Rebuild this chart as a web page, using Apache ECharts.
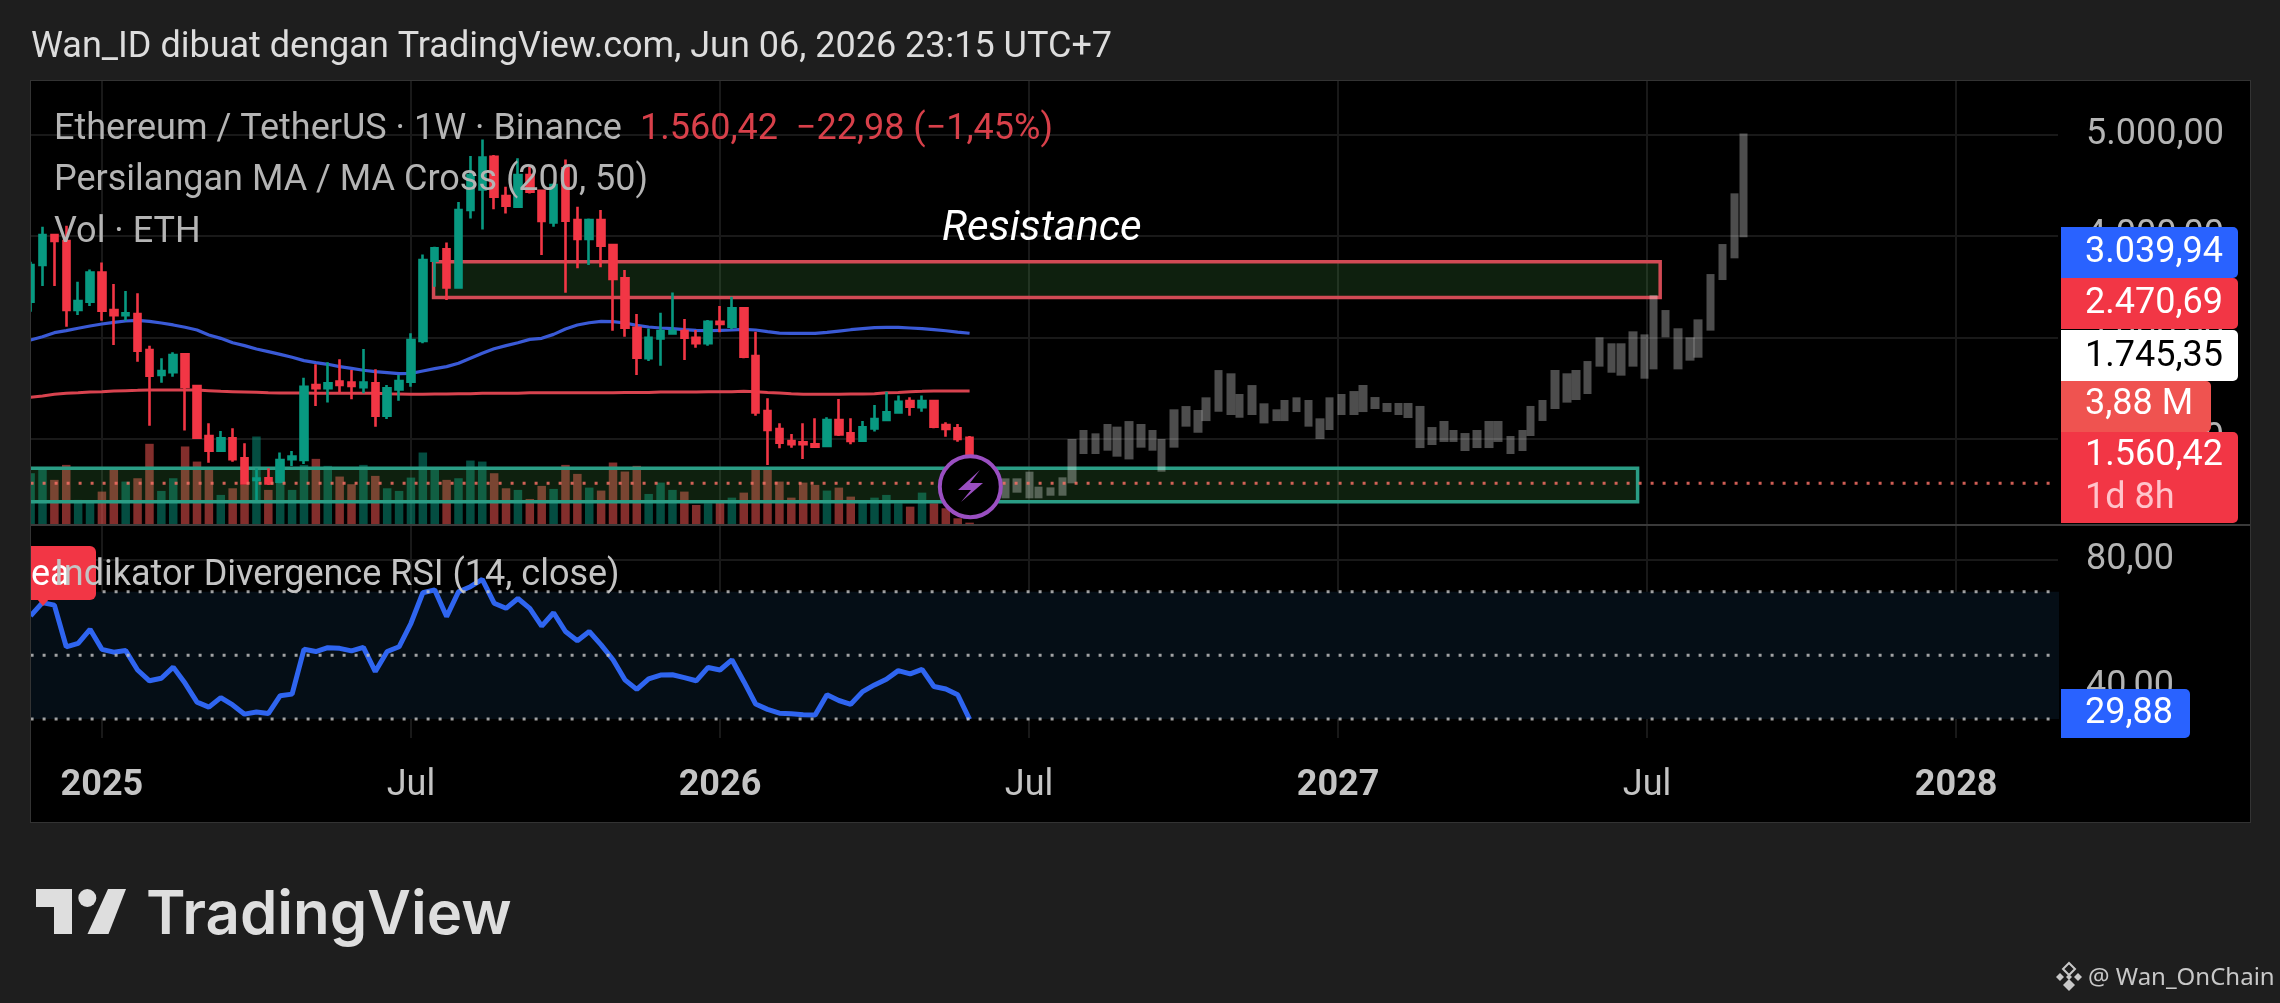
<!DOCTYPE html>
<html><head><meta charset="utf-8">
<style>
html,body{margin:0;padding:0;background:#1e1e1e;width:2280px;height:1003px;overflow:hidden}
#panel{position:absolute;left:30px;top:80px;width:2219px;height:741px;background:#000;border:1px solid #333}
#c{position:absolute;left:0;top:0;width:2280px;height:1003px}
</style>
<script src="https://cdn.jsdelivr.net/npm/echarts@6/dist/echarts.min.js"></script>
</head><body><div id="panel"></div><div id="c"></div>
<script>
// Weekly candles, index 0..79 (price in USDT)
const opens=[3352,3713,4009,3950,3269,3352,3638,3269,3217,3230,2875,2629,2655,2832,2520,2027,1882,2004,1807,1593,1610,1577,1797,1790,2530,2497,2563,2553,2507,2546,2228,2487,2563,2964,3755,3867,3493,4255,4459,4781,4393,4288,4600,4446,4133,4666,4156,3969,4156,3910,3582,3095,2793,2990,3039,3062,2996,2941,3154,3105,3286,2816,2273,2096,1977,1964,1945,1928,2185,2053,1981,2102,2185,2260,2372,2310,2372,2135,2102,2010];
const closes=[3713,4009,3950,3269,3358,3638,3263,3217,3237,2868,2622,2668,2826,2510,2011,1882,2004,1797,1560,1606,1560,1790,1823,2513,2497,2546,2530,2520,2553,2228,2497,2569,2974,3762,3877,3493,4255,4600,4774,4387,4298,4600,4436,4147,4502,4150,3969,4156,3903,3575,3095,2799,2996,3062,3062,2996,2941,3154,3131,3286,2809,2260,2086,1961,1945,1945,1922,2185,2043,1977,2112,2194,2260,2365,2316,2372,2119,2096,1997,1560.42];
const lows=[3253,3506,3506,3105,3220,3309,3164,2924,3164,2760,2129,2553,2612,2080,1997,1764,1882,1774,1554,1396,1544,1560,1731,1751,2323,2356,2454,2389,2448,2119,2195,2375,2513,2941,3499,3368,3493,4173,4064,4262,4222,4281,4419,3811,4091,3440,3680,3713,3690,3065,3006,2628,2766,2720,3029,2776,2898,2918,3049,3079,2793,2227,1741,1905,1912,1800,1922,1928,2027,1945,1981,2070,2178,2250,2227,2267,2102,2020,1971,1545];
const highs=[3746,4091,4009,4101,3549,3670,3739,3526,3457,3434,2918,2793,2852,2842,2530,2152,2076,2103,1955,1708,1708,1863,1879,2602,2734,2753,2783,2678,2885,2684,2530,2629,3039,3818,3894,3936,4334,4788,4952,4797,4485,4765,4682,4452,4518,4755,4288,4173,4255,3920,3664,3230,3088,3243,3443,3181,3072,3171,3309,3401,3286,3056,2398,2152,2047,2152,2201,2211,2392,2201,2175,2332,2464,2425,2408,2425,2382,2162,2145,2027];
// Volume, millions of ETH
const volumes=[85.7,91.2,74.7,99.5,41.5,39.8,55.3,91.2,71.9,77.4,134.4,56.4,77.4,130,105,91.2,49.8,60.8,66.4,146.5,58.1,94,58.1,99.5,109.5,97.9,80.2,67.5,99.5,81.3,60.8,56.4,78.5,120,94,74.7,77.4,106.7,105,85.7,60.8,58.1,43.1,64.7,59.7,99.5,84.6,61.9,57,103.4,88.5,97.9,51.4,70.2,58.1,55.3,33.2,35.9,39.8,45.3,53.6,91.2,94,71.9,45.3,70.2,66.4,57,61.9,47,38.7,45.3,49.8,35.9,30.4,53.6,35.9,27.7,11.1,3.88];
// MA Cross (200, 50)
const ma50=[2974,3006,3046,3066,3089,3112,3131,3148,3161,3168,3158,3141,3122,3099,3072,3023,2990,2947,2918,2885,2859,2832,2803,2770,2750,2734,2711,2694,2675,2661,2652,2642,2645,2668,2691,2711,2744,2793,2842,2888,2918,2947,2980,2990,3029,3082,3121,3144,3158,3154,3141,3118,3102,3092,3085,3075,3069,3065,3069,3072,3079,3072,3056,3042,3039,3039,3039,3049,3062,3075,3085,3095,3098,3098,3092,3085,3075,3065,3052,3039.94];
const ma200=[2408,2421,2438,2448,2454,2461,2464,2471,2474,2477,2481,2481,2481,2481,2481,2474,2467,2464,2461,2458,2454,2451,2451,2451,2448,2448,2448,2448,2448,2448,2444,2441,2438,2438,2441,2441,2444,2444,2448,2448,2448,2448,2454,2454,2454,2454,2454,2454,2454,2454,2457,2457,2457,2461,2461,2461,2461,2464,2464,2464,2467,2464,2457,2451,2444,2438,2438,2438,2438,2441,2441,2444,2454,2457,2464,2467,2470.69,2470.69,2470.69,2470.69];
// RSI (14, close)
const rsi=[62.4,66.6,65.8,52.7,53.8,58.2,51.9,51.0,51.5,45.4,42.0,42.8,46.3,41.2,35.3,33.7,36.7,34.4,31.5,32.2,31.7,37.3,37.8,51.9,51.2,52.4,52.2,51.4,52.5,44.9,51.2,52.7,60.1,69.7,70.6,62.2,70.0,71.6,73.9,66.4,64.8,67.9,64.8,59.2,63.4,57.5,54.6,57.5,53.3,48.6,42.3,39.3,42.6,43.8,43.9,43.0,42.0,46.2,45.4,48.6,41.8,34.7,33.0,31.8,31.6,31.3,31.2,37.6,35.8,34.6,38.6,40.7,42.5,45.2,44.2,45.6,40.2,39.4,37.6,29.88];
// Projected bars pattern: position (in weeks), top price, bottom price
const projPos=[82,83,84.05,84.8,85.8,86.8,87.6,88.6,89.6,90.6,91.4,92.4,93.4,94.4,95.15,96.2,97.2,98.2,98.9,99.95,101,101.7,102.75,103.75,104.8,105.5,106.5,107.5,108.5,109.3,110.3,111.34,112.1,113.1,114.1,115.1,115.9,116.9,117.9,118.9,119.7,120.7,121.7,122.7,123.45,124.5,125.5,126.2,127.2,128.25,129.26,130,131,132,133,133.8,134.8,135.8,136.55,137.55,138.6,139.6,140.3,141.35,142.35,143.35,144.1];
const projHigh=[1609,1609,1675,1527,1520,1619,1997,2086,2053,2145,2119,2174,2145,2086,1997,2290,2322,2283,2408,2677,2645,2441,2529,2349,2290,2382,2408,2382,2201,2408,2441,2470,2530,2411,2352,2352,2352,2323,2115,2175,2086,2056,2086,2175,2175,2027,2086,2323,2382,2678,2645,2678,2766,3000,2941,2941,3059,3029,3417,3269,3089,3000,3177,3624,3920,4420,5011];
const projLow=[1412,1468,1412,1412,1438,1438,1560,1849,1849,1882,1823,1796,1912,1882,1675,1912,2119,2059,2174,2266,2234,2207,2234,2151,2174,2174,2263,2119,1997,2086,2234,2234,2263,2293,2263,2234,2204,1908,1938,1968,1968,1879,1908,1908,1968,1849,1879,2027,2175,2293,2356,2382,2441,2711,2651,2622,2711,2592,2684,3000,2684,2770,2799,3066,3565,3779,3986];
// Zones: start week, end week, top price, bottom price
const resistanceZone=[33.9,137.1,3746,3392];
const supportZone=[-2,135.2,1708,1379];
const rsiBand=[-2,172,70,30];
const lastPrice=1560.42;
const rsiLevels=[70,50,30];
// Axes
const timeTicks=[6,32,58,84,110,136,162];
const timeLabels=['2025','Jul','2026','Jul','2027','Jul','2028'];
const priceTicks=[2000,3000,4000,5000];
const rsiTicks=[40,80];

const UP='#089981',DOWN='#F23645',FONT='Roboto';
const idx=a=>a.map((v,i)=>[i,v]);
const fmt=v=>{const s=v.toFixed(2).split('.');return s[0].replace(/\B(?=(\d{3})+$)/g,'.')+','+s[1];};
const GRIDC='#191919';

function zoneSeries(zone,fill,stroke,xi,yi,z){
  return {type:'custom',xAxisIndex:xi,yAxisIndex:yi,z:z,clip:true,silent:true,
    encode:{x:[0,1],y:[2,3]},data:[zone],
    renderItem:(p,api)=>{
      const a=api.coord([api.value(0),api.value(2)]),b=api.coord([api.value(1),api.value(3)]);
      return {type:'rect',shape:{x:a[0],y:a[1],width:b[0]-a[0],height:b[1]-a[1]},
        style:{fill:fill,stroke:stroke,lineWidth:stroke?3.5:0}};
    }};
}
function dotted(v,color,xi,yi){
  return {type:'line',xAxisIndex:xi,yAxisIndex:yi,z:8,symbol:'none',silent:true,
    lineStyle:{color:color,width:3,type:[3,9]},data:[[0,v],[170,v]]};
}

function txt(text,x,y,size,fill,extra){
  return {type:'text',z:100,style:{text:text,x:x,y:y,fill:fill,
    font:(extra&&extra.font)||(size+'px '+FONT),textVerticalAlign:'middle',textAlign:'left'}};
}
function box(x,y,w,h,fill,r){
  return {type:'rect',z:99,shape:{x:x,y:y,width:w,height:h,r:r||[0,5,5,0]},style:{fill:fill}};
}
const G='#b4b4b4';
const graphics=[
  // left gutter covers marks that cross the pane edge
  {type:'rect',z:98,shape:{x:0,y:60,width:30,height:780},style:{fill:'#1e1e1e'}},
  {type:'line',z:98,shape:{x1:30.5,y1:80,x2:30.5,y2:822},style:{stroke:'#333',lineWidth:1}},
  txt('Wan_ID dibuat dengan TradingView.com, Jun 06, 2026 23:15 UTC+7',31,48,36,'#dddddd'),
  txt('Ethereum / TetherUS · 1W · Binance',54,130,36,G),
  txt('1.560,42  −22,98 (−1,45%)',640,130,36,'#d8404a'),
  txt('Persilangan MA / MA Cross (200, 50)',54,181,36,G),
  txt('Vol · ETH',54,233,36,G),
  txt('Resistance',942,229,0,'#ffffff',{font:'italic 400 42px '+FONT}),
  {type:'line',z:90,shape:{x1:30,y1:525,x2:2250,y2:525},style:{stroke:'#3a3a3a',lineWidth:2}},
  box(2061,227,177,51,'#2962FF'),
  box(2061,278,177,51,'#F23645'),
  box(2061,330,177,51,'#ffffff'),
  box(2061,381,150,51,'#EF5350'),
  box(2061,432,177,91,'#F23645'),
  box(2061,689,129,49,'#2962FF'),
  txt('3.039,94',2085,253,36,'#ffffff'),
  txt('2.470,69',2085,304,36,'#ffffff'),
  txt('1.745,35',2085,357,36,'#000000'),
  txt('3,88 M',2085,405,36,'#ffffff'),
  txt('1.560,42',2085,456,36,'#ffffff'),
  txt('1d 8h',2085,499,36,'#ffc4cb'),
  txt('29,88',2085,714,36,'#ffffff'),
  // RSI pane flag
  box(31,546,65,54,'#F23645',[0,6,6,0]),
  {type:'polygon',z:99,shape:{points:[[37,599],[49,599],[43,606]]},style:{fill:'#F23645'}},
  txt('ea',31,576,36,'#ffffff'),
  txt('Indikator Divergence RSI (14, close)',54,576,36,'#c4c4c4'),
  // lightning icon
  {type:'circle',z:99,shape:{cx:970.3,cy:486.7,r:30.5},style:{fill:'#000',stroke:'#9a4fc1',lineWidth:4}},
  {type:'polygon',z:100,shape:{points:[[980,470],[958,490],[971,490],[961,502],[983,483],[970,483]]},style:{fill:'#9a4fc1'}},
  // logo
  {type:'polygon',z:100,shape:{points:[[36,889],[72,889],[72,934],[54,934],[54,907],[36,907]]},style:{fill:'#dedede'}},
  {type:'circle',z:100,shape:{cx:87.3,cy:898,r:9},style:{fill:'#dedede'}},
  {type:'polygon',z:100,shape:{points:[[108,889],[126,889],[108.5,934],[87.5,934]]},style:{fill:'#dedede'}},
  txt('TradingView',146,916,0,'#dedede',{font:'600 60px Inter'}),
  // footer signature
  {type:'polygon',z:100,shape:{points:[[2069,963],[2075,969],[2069,975],[2063,969]]},style:{fill:'none',stroke:'#c8c8c8',lineWidth:2}},
  {type:'polygon',z:100,shape:{points:[[2069,979],[2075,985],[2069,991],[2063,985]]},style:{fill:'#c8c8c8'}},
  {type:'polygon',z:100,shape:{points:[[2060,973],[2064,977],[2060,981],[2056,977]]},style:{fill:'#c8c8c8'}},
  {type:'polygon',z:100,shape:{points:[[2078,973],[2082,977],[2078,981],[2074,977]]},style:{fill:'#c8c8c8'}},
  {type:'polygon',z:100,shape:{points:[[2069,974],[2072,977],[2069,980],[2066,977]]},style:{fill:'#c8c8c8'}},
  txt('@ Wan_OnChain',2088,978,0,'#c8c8c8',{font:'24px "Noto Sans"'})
];

const chart=echarts.init(document.getElementById('c'),null,{renderer:'canvas'});
chart.setOption({
  backgroundColor:'transparent',animation:false,
  textStyle:{fontFamily:FONT},
  grid:[{left:30.6,right:222,top:81,height:444},{left:30.6,right:222,top:526,height:212}],
  xAxis:[
    {type:'value',gridIndex:0,min:0,max:170.57,
      axisLine:{show:false},axisLabel:{show:false},
      axisTick:{show:false,customValues:timeTicks},
      splitLine:{show:true,lineStyle:{color:GRIDC,width:2}}},
    {type:'value',gridIndex:1,min:0,max:170.57,
      axisLine:{show:false},
      axisTick:{show:false,customValues:timeTicks},
      splitLine:{show:true,lineStyle:{color:GRIDC,width:2}},
      axisLabel:{show:true,customValues:timeTicks,margin:30,color:'#c4c4c4',fontSize:36,
        hideOverlap:false,showMinLabel:true,showMaxLabel:true,
        formatter:v=>{const s=timeLabels[timeTicks.indexOf(v)];return s==='Jul'?s:'{b|'+s+'}';},
        rich:{b:{fontWeight:700,fontSize:36,color:'#c4c4c4',fontFamily:FONT}}}}
  ],
  yAxis:[
    {type:'value',gridIndex:0,position:'right',min:1149,max:5528,
      axisLine:{show:false},
      axisTick:{show:false,customValues:priceTicks},
      splitLine:{show:true,lineStyle:{color:GRIDC,width:2}},
      axisLabel:{show:true,customValues:priceTicks,margin:28,color:G,fontSize:36,formatter:v=>fmt(v)}},
    {type:'value',gridIndex:0,min:0,max:735,show:false,splitLine:{show:false}},
    {type:'value',gridIndex:1,position:'right',min:24,max:90.7,
      axisLine:{show:false},
      axisTick:{show:false,customValues:rsiTicks},
      splitLine:{show:true,lineStyle:{color:GRIDC,width:2}},
      axisLabel:{show:true,customValues:rsiTicks,margin:28,color:G,fontSize:36,padding:[5,0,0,0],formatter:v=>fmt(v)}}
  ],
  series:[
    {type:'bar',name:'Vol',xAxisIndex:0,yAxisIndex:1,z:2,barWidth:8.5,silent:true,
      data:volumes.map((v,i)=>({value:[i,v],itemStyle:{color:closes[i]>=opens[i]?'rgba(8,153,129,0.5)':'rgba(239,83,80,0.55)'}}))},
    zoneSeries(resistanceZone,'rgba(76,175,80,0.18)','#d24a55',0,0,3),
    zoneSeries(supportZone,'rgba(76,175,80,0.18)','#2a9d85',0,0,3),
    {type:'candlestick',name:'Projection',xAxisIndex:0,yAxisIndex:0,z:4,barWidth:9,silent:true,
      itemStyle:{color:'rgba(255,255,255,0.3)',color0:'rgba(255,255,255,0.3)',borderWidth:0,borderColor:'transparent',borderColor0:'transparent'},
      data:projPos.map((x,i)=>[x,projLow[i],projHigh[i],projLow[i],projHigh[i]])},
    {type:'line',name:'MA50',xAxisIndex:0,yAxisIndex:0,z:4,symbol:'none',silent:true,
      lineStyle:{color:'#3a5ad6',width:3.2},data:idx(ma50)},
    {type:'line',name:'MA200',xAxisIndex:0,yAxisIndex:0,z:4,symbol:'none',silent:true,
      lineStyle:{color:'#d8434f',width:3},data:idx(ma200)},
    {type:'candlestick',name:'ETHUSDT',xAxisIndex:0,yAxisIndex:0,z:5,barWidth:7,silent:true,
      itemStyle:{color:UP,color0:DOWN,borderColor:UP,borderColor0:DOWN,borderWidth:2.6},
      data:opens.map((o,i)=>[i,o,closes[i],lows[i],highs[i]])},
    dotted(lastPrice,'rgba(245,110,100,0.85)',0,0),
    zoneSeries(rsiBand,'#050e16',null,1,2,1),
    ...rsiLevels.map(v=>dotted(v,'rgba(200,200,200,0.8)',1,2)),
    {type:'line',name:'RSI',xAxisIndex:1,yAxisIndex:2,z:6,symbol:'none',silent:true,
      lineStyle:{color:'#2f65f0',width:5},data:idx(rsi)}
  ],
  graphic:{elements:graphics}
});
</script></body></html>
